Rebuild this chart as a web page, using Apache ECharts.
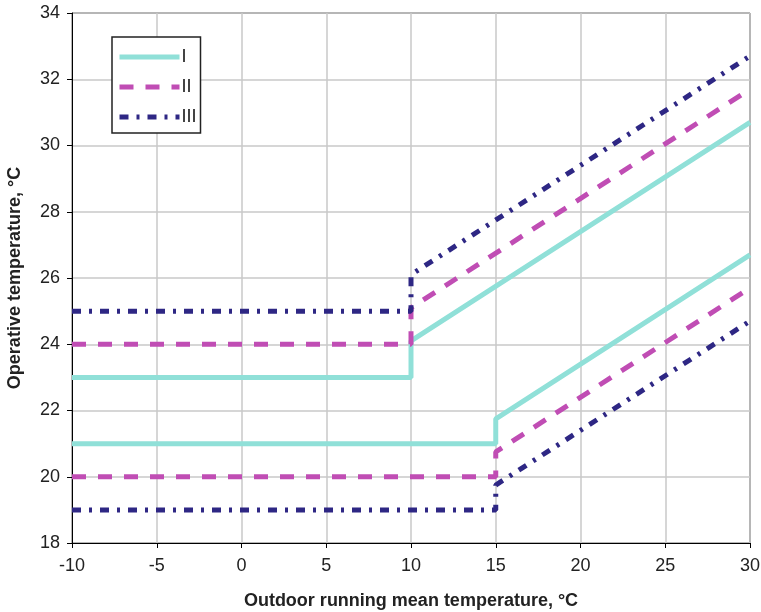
<!DOCTYPE html>
<html>
<head>
<meta charset="utf-8">
<script src="https://cdn.jsdelivr.net/npm/echarts@6/dist/echarts.min.js"></script>
<style>
  html, body { margin: 0; padding: 0; background: #fff; }
  #chart { width: 761px; height: 612px; }
</style>
</head>
<body>
<div id="chart"></div>
<script>
// category limits, [outdoor temp, operative temp]
const upperI = [[-10, 23], [10, 23], [10, 24.1], [30, 30.7]];
const lowerI = [[-10, 21], [15, 21], [15, 21.75], [30, 26.7]];
const upperII = [[-10, 24], [10, 24], [10, 25.1], [30, 31.7]];
const lowerII = [[-10, 20], [15, 20], [15, 20.75], [30, 25.7]];
const upperIII = [[-10, 25], [10, 25], [10, 26.1], [30, 32.7]];
const lowerIII = [[-10, 19], [15, 19], [15, 19.75], [30, 24.7]];

const colorI = "#90e0d8";
const colorII = "#c04db4";
const colorIII = "#2e2784";

const font = "Liberation Sans, Arial, sans-serif";

function lineSeries(name, data, color, type) {
  return {
    name: name,
    type: "line",
    data: data,
    symbol: "none",
    animation: false,
    lineStyle: { color: color, width: 5, type: type, cap: "butt" },
    itemStyle: { color: color },
  };
}

const chart = echarts.init(document.getElementById("chart"));

const axisCommon = {
  nameLocation: "middle",
  nameTextStyle: { fontFamily: font, fontSize: 18, fontWeight: "bold", color: "#222" },
  axisLine: { show: true, onZero: false, lineStyle: { color: "#000", width: 1 } },
  axisTick: { show: true, inside: false, length: 5, lineStyle: { color: "#000" } },
  splitLine: { show: true, lineStyle: { color: "#c8c8c8", width: 1.5 } },
};

chart.setOption({
  animation: false,
  grid: {
    left: 72, right: 11, top: 13, bottom: 69,
    outerBoundsMode: "none",
    containLabel: false,
    show: true, borderColor: "#000", borderWidth: 1,
  },
  legend: {
    orient: "vertical",
    left: 112, top: 37,
    padding: [11, 4, 7, 5],
    itemWidth: 60, itemHeight: 10, itemGap: 12,
    backgroundColor: "#fff",
    borderColor: "#222", borderWidth: 1.5,
    itemStyle: { opacity: 0 },
    lineStyle: { width: 5 },
    textStyle: { fontFamily: font, fontSize: 18, lineHeight: 18, color: "#222", padding: [0, 0, 0, -3] },
    data: ["I", "II", "III"],
  },
  xAxis: Object.assign({}, axisCommon, {
    type: "value",
    min: -10, max: 30, interval: 5,
    name: "Outdoor running mean temperature, °C",
    nameGap: 49,
    axisLabel: { fontFamily: font, fontSize: 18, color: "#222", margin: 14 },
  }),
  yAxis: Object.assign({}, axisCommon, {
    type: "value",
    min: 18, max: 34, interval: 2,
    name: "Operative temperature, °C",
    nameGap: 48,
    axisLabel: { fontFamily: font, fontSize: 18, color: "#222", margin: 12 },
  }),
  series: [
    lineSeries("I", upperI, colorI, "solid"),
    lineSeries("I", lowerI, colorI, "solid"),
    lineSeries("II", upperII, colorII, [14, 12]),
    lineSeries("II", lowerII, colorII, [14, 12]),
    lineSeries("III", upperIII, colorIII, [9, 8, 3, 8]),
    lineSeries("III", lowerIII, colorIII, [9, 8, 3, 8]),
  ],
});
</script>
</body>
</html>
